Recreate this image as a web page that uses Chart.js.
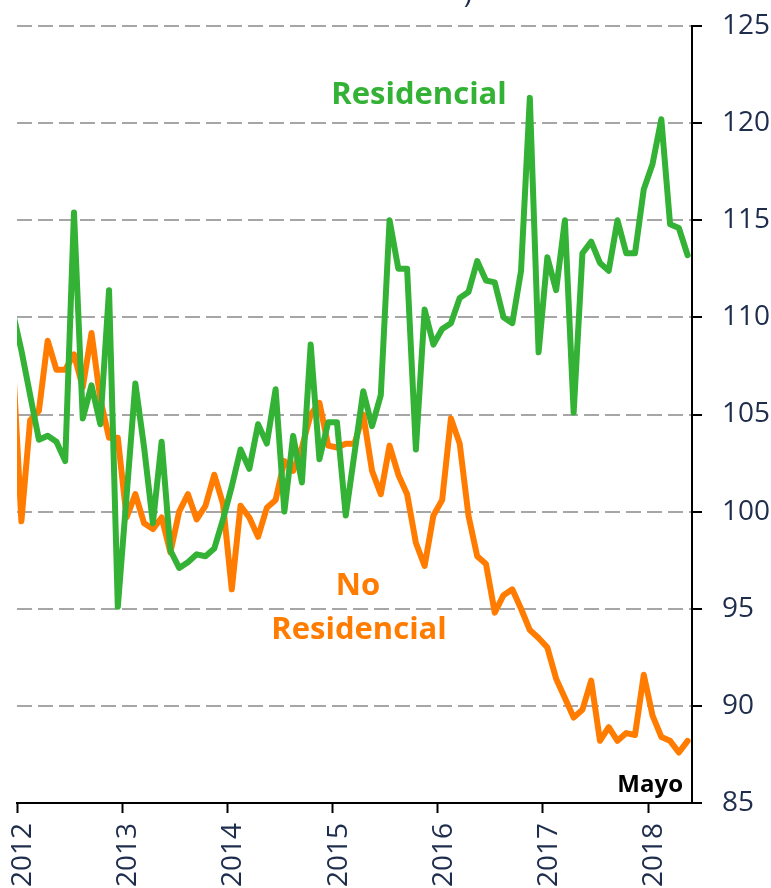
<!DOCTYPE html>
<html lang="es">
  <head>
    <meta charset="UTF-8" />
    <title>Residencial / No Residencial</title>
    <script src="https://cdn.jsdelivr.net/npm/chart.js"></script>
    <style>
      body { margin: 0; background: #fff; }
      #wrap { width: 771px; height: 888px; position: relative; }
    </style>
  </head>
  <body>
    <div id="wrap"><canvas id="indexChart"></canvas></div>

    <script>
      // monthly values, Dec 2011 .. May 2018 (first one sits just outside the plot)
      const years = ["2012", "2013", "2014", "2015", "2016", "2017", "2018"];
      const firstMonth = -1; // Dec 2011, counted from Jan 2012 = 0

      const residencial = [
        110.3,
        108.3, 106.0, 103.7, 103.9, 103.6, 102.6, 115.4, 104.8, 106.5, 104.5, 111.4, 95.1,
        100.8, 106.6, 103.3, 99.4, 103.6, 98.0, 97.1, 97.4, 97.8, 97.7, 98.1, 99.6,
        101.3, 103.2, 102.2, 104.5, 103.5, 106.3, 100.0, 103.9, 101.5, 108.6, 102.7, 104.6,
        104.6, 99.8, 103.0, 106.2, 104.4, 106.0, 115.0, 112.5, 112.5, 103.2, 110.4, 108.6,
        109.4, 109.7, 111.0, 111.3, 112.9, 111.9, 111.8, 110.0, 109.7, 112.4, 121.3, 108.2,
        113.1, 111.4, 115.0, 105.1, 113.3, 113.9, 112.8, 112.4, 115.0, 113.3, 113.3, 116.6,
        117.9, 120.2, 114.8, 114.6, 113.2
      ];

      const noResidencial = [
        108.0,
        99.5, 104.7, 105.2, 108.8, 107.3, 107.3, 108.1, 106.4, 109.2, 105.8, 103.8, 103.8,
        99.7, 100.9, 99.4, 99.1, 99.7, 97.9, 100.0, 100.9, 99.6, 100.3, 101.9, 100.4,
        96.0, 100.3, 99.7, 98.7, 100.2, 100.6, 102.6, 102.1, 103.3, 105.0, 105.6, 103.4,
        103.3, 103.5, 103.5, 105.0, 102.1, 100.9, 103.4, 101.9, 100.9, 98.4, 97.2, 99.8,
        100.6, 104.8, 103.5, 99.8, 97.7, 97.3, 94.8, 95.7, 96.0, 95.0, 93.9, 93.5,
        93.0, 91.4, 90.4, 89.4, 89.8, 91.3, 88.2, 88.9, 88.2, 88.6, 88.5, 91.6,
        89.5, 88.4, 88.2, 87.6, 88.2
      ];

      const green = "#33b236";
      const orange = "#ff7c00";
      const navy = "#1f2d4d";

      const toPoints = (arr) => arr.map((v, i) => ({ x: firstMonth + i, y: v }));

      const notes = {
        id: "notes",
        afterDatasetsDraw(chart) {
          const ctx = chart.ctx;
          ctx.save();
          // bottom of the cut-off title above the chart
          ctx.font = '28px "Open Sans"';
          ctx.fillStyle = navy;
          ctx.textAlign = "center";
          ctx.textBaseline = "alphabetic";
          ctx.fillText(")", 468, 3);

          ctx.textBaseline = "middle";
          ctx.font = 'bold 31px "Open Sans"';
          ctx.fillStyle = green;
          ctx.fillText("Residencial", 419, 95);
          ctx.fillStyle = orange;
          ctx.fillText("No", 358, 586);
          ctx.fillText("Residencial", 359, 630);
          ctx.font = 'bold 24px "Open Sans"';
          ctx.fillStyle = "#000";
          ctx.textAlign = "right";
          ctx.fillText("Mayo", 683, 785);
          ctx.restore();
        },
      };

      new Chart(document.getElementById("indexChart"), {
        type: "line",
        data: {
          datasets: [
            {
              label: "Residencial",
              data: toPoints(residencial),
              borderColor: green,
              borderWidth: 6,
              pointRadius: 0,
              tension: 0,
              borderJoinStyle: "round",
              borderCapStyle: "round",
              clip: 0,
            },
            {
              label: "No Residencial",
              data: toPoints(noResidencial),
              borderColor: orange,
              borderWidth: 6,
              pointRadius: 0,
              tension: 0,
              borderJoinStyle: "round",
              borderCapStyle: "round",
              clip: 0,
            },
          ],
        },
        options: {
          responsive: true,
          maintainAspectRatio: false,
          animation: false,
          layout: { padding: { left: 17, top: 26, right: 0, bottom: 0 } },
          plugins: { legend: { display: false }, tooltip: { enabled: false } },
          scales: {
            x: {
              type: "linear",
              min: -0.5,
              max: 76.5,
              afterBuildTicks: (scale) => {
                scale.ticks = years.map((y, k) => ({ value: k * 12 - 0.5 }));
              },
              afterFit: (scale) => {
                scale.height = 85;
                scale.paddingLeft = 0;
                scale.paddingRight = 0;
              },
              grid: {
                drawOnChartArea: false,
                drawTicks: true,
                tickLength: 10,
                tickColor: "#000",
                tickWidth: 2,
              },
              border: { color: "#000", width: 2 },
              ticks: {
                autoSkip: false,
                minRotation: 90,
                maxRotation: 90,
                padding: 10,
                labelOffset: 6,
                color: navy,
                font: { family: "Open Sans", size: 28 },
                callback: (value) => years[Math.round((value + 0.5) / 12)],
              },
            },
            y: {
              position: "right",
              min: 85,
              max: 125,
              afterFit: (scale) => {
                scale.width = 79;
                scale.paddingTop = 0;
                scale.paddingBottom = 0;
              },
              grid: {
                color: "#a6a6a6",
                lineWidth: 2,
                drawTicks: true,
                tickLength: 10,
                tickColor: "#000",
                tickWidth: 2,
              },
              border: { color: "#000", width: 2, dash: [15, 6] },
              ticks: {
                stepSize: 5,
                padding: 20,
                color: navy,
                font: { family: "Open Sans", size: 28 },
              },
            },
          },
        },
        plugins: [notes],
      });
    </script>
  </body>
</html>
